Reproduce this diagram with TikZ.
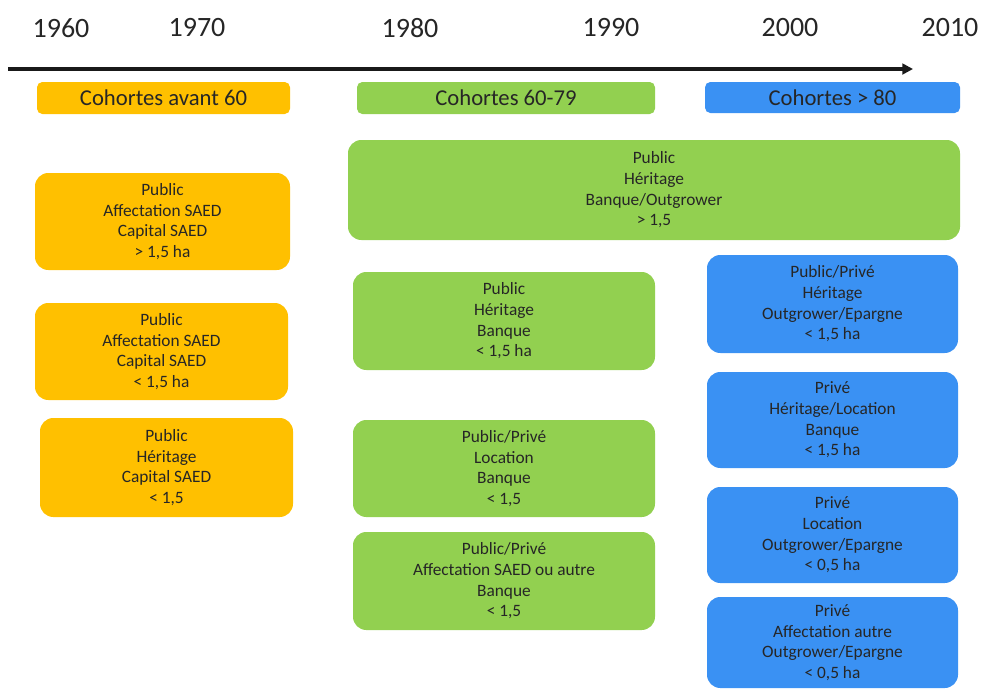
\documentclass[tikz,border=0pt]{standalone}
\usepackage{fontspec}
\setmainfont{Carlito}
\usetikzlibrary{arrows.meta}
\definecolor{cOr}{HTML}{FFC000}
\definecolor{cGr}{HTML}{92D050}
\definecolor{cBl}{HTML}{3A91F3}
\definecolor{cTx}{HTML}{262626}
\tikzset{
  sz/.style 2 args={minimum width=#1*0.75pt, minimum height=#2*0.75pt},
  cbox/.style={rounded corners=10pt, inner sep=0pt, align=center, text=cTx,
    font=\fontsize{13}{15.5}\selectfont},
  hbox/.style={rounded corners=4pt, inner sep=0pt, align=center, text=cTx,
    font=\fontsize{17}{20}\selectfont},
  yr/.style={font=\fontsize{21}{24}\selectfont, text=cTx, inner sep=0pt},
  obox/.style={cbox, fill=cOr},
  gbox/.style={cbox, fill=cGr},
  bbox/.style={cbox, fill=cBl},
}
\begin{document}
\begin{tikzpicture}[x=0.75pt, y=-0.75pt]
\useasboundingbox (0,0) rectangle (986,690);
% years
\node[yr] (y1960) at (61,28) {1960};
\node[yr] (y1970) at (197,28) {1970};
\node[yr] (y1980) at (410,28) {1980};
\node[yr] (y1990) at (611,28) {1990};
\node[yr] (y2000) at (790,28) {2000};
\node[yr] (y2010) at (950,28) {2010};
% axis
\coordinate (as) at (8,69);
\coordinate (ae) at (913,69);
\draw[line width=2.6pt, black!90, -{Triangle[length=8pt,width=8pt]}] (as) -- (ae);
% headers
\node[hbox, fill=cOr, sz={253}{32}] (oh) at (163.5,98) {Cohortes avant 60};
\node[hbox, fill=cGr, sz={298}{32}] (gh) at (506,98) {Cohortes 60-79};
\node[hbox, fill=cBl, sz={255}{31}] (bh) at (832.5,97.5) {Cohortes > 80};
% orange column
\node[obox, sz={255}{97}] (o1) at (162.5,221.5) {Public\\Affectation SAED\\Capital SAED\\> 1,5 ha};
\node[obox, sz={253}{97}] (o2) at (161.5,351.5) {Public\\Affectation SAED\\Capital SAED\\< 1,5 ha};
\node[obox, sz={253}{99}] (o3) at (166.5,467.5) {Public\\Héritage\\Capital SAED\\< 1,5};
% green column
\node[gbox, sz={612}{100}] (g1) at (654,190) {Public\\Héritage\\Banque/Outgrower\\> 1,5};
\node[gbox, sz={302}{98}] (g2) at (504,321) {Public\\Héritage\\Banque\\< 1,5 ha};
\node[gbox, sz={302}{97}] (g3) at (504,468.5) {Public/Privé\\Location\\Banque\\< 1,5};
\node[gbox, sz={302}{98}] (g4) at (504,581) {Public/Privé\\Affectation SAED ou autre\\Banque\\< 1,5};
% blue column
\node[bbox, sz={251}{98}] (b1) at (832.5,304) {Public/Privé\\Héritage\\Outgrower/Epargne\\< 1,5 ha};
\node[bbox, sz={251}{96}] (b2) at (832.5,420) {Privé\\Héritage/Location\\Banque\\< 1,5 ha};
\node[bbox, sz={251}{96}] (b3) at (832.5,535) {Privé\\Location\\Outgrower/Epargne\\< 0,5 ha};
\node[bbox, sz={251}{91}] (b4) at (832.5,642.5) {Privé\\Affectation autre\\Outgrower/Epargne\\< 0,5 ha};
\end{tikzpicture}
\end{document}
